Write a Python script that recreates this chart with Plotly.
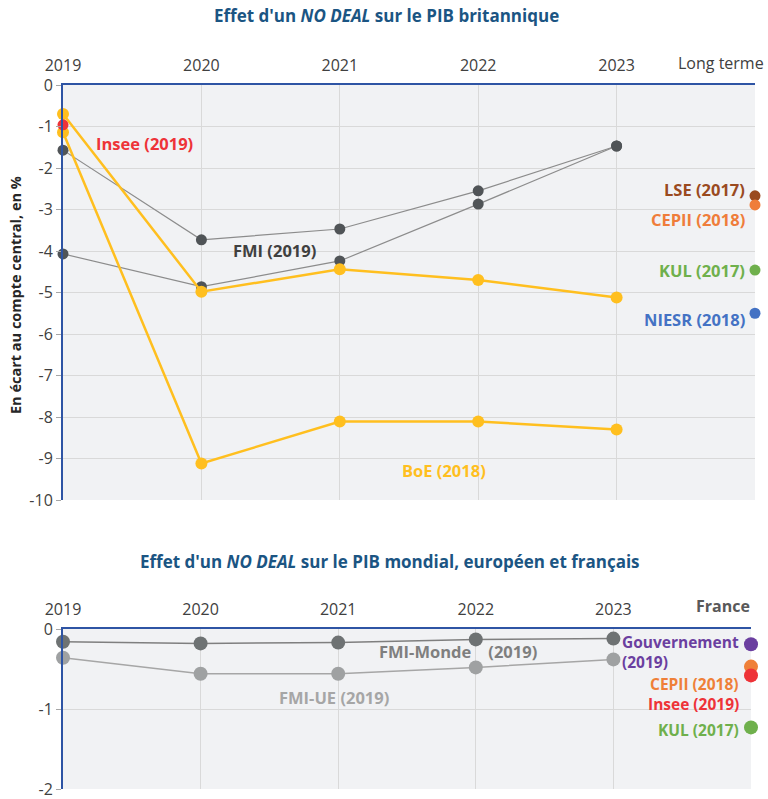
import plotly.graph_objects as go

# ---------------- data: top chart (UK GDP) ----------------
top_ticks = ["2019", "2020", "2021", "2022", "2023"]
top_x = [0, 1, 2, 3, 4]
fmi_a = [-1.57, -3.73, -3.47, -2.55, -1.47]
fmi_b = [-4.07, -4.86, -4.24, -2.87, -1.47]
boe_a = [-0.70, -4.98, -4.44, -4.70, -5.12]
boe_b = [-1.14, -9.12, -8.11, -8.11, -8.30]
insee_uk = [-0.96]
lt_names = ["LSE (2017)", "CEPII (2018)", "KUL (2017)", "NIESR (2018)"]
lt_values = [-2.67, -2.89, -4.46, -5.50]
lt_colors = ["#9a4a1f", "#ef7d3a", "#6fb04c", "#4472c4"]
top_yticks = [0, -1, -2, -3, -4, -5, -6, -7, -8, -9, -10]
top_yticklabels = ["0", "-1", "-2", "-3", "-4", "-5", "-6", "-7", "-8", "-9", "-10"]

# ---------------- data: bottom chart (world / EU / France) ----------------
bot_ticks = ["2019", "2020", "2021", "2022", "2023"]
fmi_monde = [-0.16, -0.18, -0.17, -0.13, -0.12]
fmi_ue = [-0.36, -0.56, -0.56, -0.48, -0.38]
fr_names = ["Gouvernement<br>(2019)", "CEPII (2018)", "Insee (2019)", "KUL (2017)"]
fr_values = [-0.19, -0.47, -0.58, -1.23]
fr_colors = ["#6b3fa0", "#ef8038", "#ee3338", "#6fb04c"]
bot_yticks = [0, -1, -2]
bot_yticklabels = ["0", "-1", "-2"]

FONT = "Open Sans"
BLUE = "#2e54a4"
BG = "#f1f2f4"
GRID = "#d9d9d9"
TXT = "#404040"
YEL = "#ffbf1f"

W, H = 768, 799

fig = go.Figure()

# top chart traces
for ser in (fmi_a, fmi_b):
    fig.add_trace(go.Scatter(x=top_x, y=ser, mode="lines+markers", xaxis="x", yaxis="y",
                             line=dict(color="#8c8c8c", width=1.2),
                             marker=dict(color="#505457", size=11), cliponaxis=False))
for ser in (boe_a, boe_b):
    fig.add_trace(go.Scatter(x=top_x, y=ser, mode="lines+markers", xaxis="x", yaxis="y",
                             line=dict(color=YEL, width=2.5),
                             marker=dict(color=YEL, size=12), cliponaxis=False))
fig.add_trace(go.Scatter(x=[0], y=insee_uk, mode="markers", xaxis="x", yaxis="y",
                         marker=dict(color="#ee3338", size=11), cliponaxis=False))
fig.add_trace(go.Scatter(x=[5] * len(lt_values), y=lt_values, mode="markers", xaxis="x", yaxis="y",
                         marker=dict(color=lt_colors, size=11), cliponaxis=False))

# bottom chart traces
fig.add_trace(go.Scatter(x=top_x, y=fmi_monde, mode="lines+markers", xaxis="x2", yaxis="y2",
                         line=dict(color="#7f7f7f", width=1.5),
                         marker=dict(color="#6e7273", size=14), cliponaxis=False))
fig.add_trace(go.Scatter(x=top_x, y=fmi_ue, mode="lines+markers", xaxis="x2", yaxis="y2",
                         line=dict(color="#a6a6a6", width=1.5),
                         marker=dict(color="#9fa1a2", size=14), cliponaxis=False))
fig.add_trace(go.Scatter(x=[5] * len(fr_values), y=fr_values, mode="markers", xaxis="x2", yaxis="y2",
                         marker=dict(color=fr_colors, size=14), cliponaxis=False))

tickfont = dict(family=FONT, size=16, color=TXT)

annotations = []
def ann(text, x, y, color, xref="x", yref="y", xanchor="center", size=16.5, bold=True, align="center", **kw):
    t = "<b>%s</b>" % text if bold else text
    annotations.append(dict(text=t, x=x, y=y, xref=xref, yref=yref, xanchor=xanchor,
                            yanchor="middle", showarrow=False, align=align,
                            font=dict(family=FONT, size=size, color=color), **kw))

# titles
ann("Effet d'un <i>NO DEAL</i> sur le PIB britannique", 386 / W, 1 - 15 / H, "#1b5583",
    xref="paper", yref="paper", size=17)
ann("Effet d'un <i>NO DEAL</i> sur le PIB mondial, européen et français", 390 / W, 1 - 561 / H, "#1b5583",
    xref="paper", yref="paper", size=17)
ann("En écart au compte central, en %", 15 / W, 1 - 295 / H, "#262626",
    xref="paper", yref="paper", size=14.5, textangle=-90)
ann("Long terme", 766 / W, 1 - 63 / H, TXT, xref="paper", yref="paper", xanchor="right", size=16, bold=False)
ann("France", 752 / W, 1 - 606 / H, "#595959", xref="paper", yref="paper", xanchor="right", size=16)

# series labels top
ann("Insee (2019)", 0.59, -1.40, "#ee3338")
ann("FMI (2019)", 1.53, -3.98, "#404040")
ann("BoE (2018)", 2.75, -9.28, YEL)
lt_label_y = [-2.53, -3.25, -4.46, -5.66]
for name, yy, c in zip(lt_names, lt_label_y, lt_colors):
    ann(name, 4.945, yy, c, xanchor="right")

# series labels bottom
ann("FMI-Monde\u00a0\u00a0\u00a0 (2019)", 2.87, -0.275, "#7f7f7f", xref="x2", yref="y2")
ann("FMI-UE (2019)", 1.97, -0.85, "#a6a6a6", xref="x2", yref="y2")
fr_label_pos = [(4.05, -0.29, "left"), (4.93, -0.69, "right"), (4.93, -0.94, "right"), (4.93, -1.26, "right")]
for name, (xx, yy, anc), c in zip(fr_names, fr_label_pos, fr_colors):
    ann(name, xx, yy, c, xref="x2", yref="y2", xanchor=anc, align="left", size=15.5)

common_x = dict(side="top", range=[0, 5], tickvals=top_x, tickfont=tickfont,
                showline=True, linecolor=BLUE, linewidth=2, showgrid=True, gridcolor=GRID,
                zeroline=False, ticks="", ticklabelstandoff=6, automargin=False,
                ticklabeloverflow="allow")
common_y = dict(tickfont=tickfont, showline=True, linecolor=BLUE, linewidth=2,
                showgrid=True, gridcolor=GRID, zeroline=False, ticks="outside",
                ticklen=5, tickcolor="#a6a6a6", automargin=False, ticklabeloverflow="allow")

fig.update_layout(
    width=W, height=H, margin=dict(l=0, r=0, t=0, b=0, autoexpand=False),
    paper_bgcolor="white", plot_bgcolor=BG, showlegend=False,
    annotations=annotations,
    xaxis=dict(domain=[63 / W, 755 / W], anchor="y", ticktext=top_ticks, **common_x),
    yaxis=dict(domain=[1 - 500 / H, 1 - 85 / H], anchor="x", range=[-10, 0],
               tickvals=top_yticks, ticktext=top_yticklabels, **common_y),
    xaxis2=dict(domain=[63 / W, 751 / W], anchor="y2", ticktext=bot_ticks, **common_x),
    yaxis2=dict(domain=[1 - 789 / H, 1 - 629 / H], anchor="x2", range=[-2, 0],
                tickvals=bot_yticks, ticktext=bot_yticklabels, **common_y),
)

fig.write_html("out.html", config={"displayModeBar": False},
               post_script="document.body.style.margin='0';document.body.style.overflow='hidden';")
